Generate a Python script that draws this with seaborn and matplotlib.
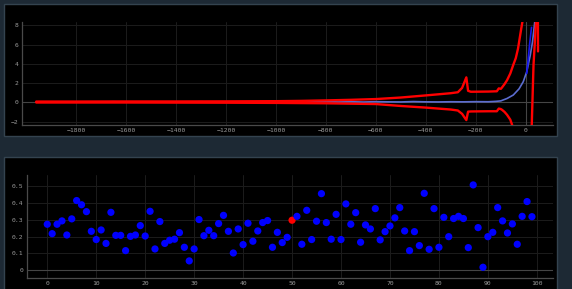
import numpy as np
import pandas as pd
import matplotlib
matplotlib.use("Agg")
import matplotlib.pyplot as plt
import seaborn as sns
from matplotlib.patches import Rectangle

# ---------------- data: top chart ----------------
upper_x = [-1960, -1800, -1600, -1400, -1200, -1000, -900, -800, -700, -600, -500, -400, -300,
           -272, -255, -238, -231, -220, -150, -116, -108, -100, -95, -85, -75, -62, -50, -40,
           -31, -18, -12, -5, 0, 46, 49]
upper_y = [0.08, 0.08, 0.09, 0.09, 0.1, 0.12, 0.15, 0.2, 0.26, 0.34, 0.5, 0.72, 0.95,
           1.05, 1.5, 2.6, 1.2, 1.1, 1.12, 1.15, 1.45, 1.4, 1.55, 1.9, 2.3, 3.0, 3.9, 4.6,
           5.6, 7.7, 8.6, 12, 25, 25, 5.3]

lower_x = [-1960, -1800, -1600, -1400, -1200, -1000, -900, -800, -700, -600, -500, -400, -300,
           -272, -255, -238, -231, -220, -150, -116, -108, -100, -95, -85, -75, -62, -54, -40,
           15, 24, 31, 41, 44]
lower_y = [-0.02, -0.02, -0.02, -0.03, -0.04, -0.06, -0.08, -0.1, -0.14, -0.18, -0.38, -0.55, -0.75,
           -0.85, -1.2, -1.85, -0.97, -0.95, -0.93, -0.93, -0.65, -0.7, -0.78, -1.0, -1.3, -1.8, -2.4, -6,
           -6, -2.3, 3.9, 8.4, 12]

mean_x = [-1960, -1900, -1850, -1800, -1750, -1700, -1650, -1600, -1550, -1500,
          -1450, -1400, -1350, -1300, -1250, -1200, -1150, -1100, -1050, -1000,
          -950, -900, -850, -800, -750, -700, -650, -600, -550, -500,
          -450, -400, -350, -300, -250, -200, -150,
          -120, -100, -75, -50, -27, -10, 4, 18, 27, 37]
mean_y = [0.03, 0.04, 0.02, 0.05, 0.03, 0.04, 0.06, 0.03, 0.04, 0.02,
          0.05, 0.03, 0.04, 0.06, 0.03, 0.05, 0.02, 0.06, 0.04, 0.03,
          0.07, 0.04, 0.05, 0.08, 0.04, 0.06, 0.03, 0.07, 0.05, 0.04,
          0.08, 0.05, 0.04, 0.06, 0.05, 0.07, 0.06,
          0.1, 0.15, 0.4, 0.76, 1.4, 2.15, 3.2, 4.9, 6.3, 8.6]

fit_x = [4, 10, 16, 23]
fit_y = [3.0, 4.6, 6.2, 7.8]

top_xticks = [-1800, -1600, -1400, -1200, -1000, -800, -600, -400, -200, 0]
top_yticks = [-2, 0, 2, 4, 6, 8]

# ---------------- data: bottom chart ----------------
idx = list(range(100))
vals = [0.274, 0.218, 0.274, 0.294, 0.21, 0.306, 0.415, 0.39, 0.349, 0.232,
        0.183, 0.24, 0.16, 0.345, 0.208, 0.208, 0.117, 0.202, 0.21, 0.266,
        0.204, 0.351, 0.127, 0.29, 0.16, 0.179, 0.185, 0.224, 0.137, 0.056,
        0.127, 0.302, 0.206, 0.238, 0.206, 0.278, 0.327, 0.232, 0.103, 0.246,
        0.153, 0.28, 0.173, 0.234, 0.284, 0.296, 0.137, 0.226, 0.165, 0.196,
        0.298, 0.321, 0.155, 0.357, 0.183, 0.292, 0.456, 0.284, 0.185, 0.333,
        0.183, 0.395, 0.274, 0.343, 0.167, 0.27, 0.246, 0.367, 0.181, 0.23,
        0.264, 0.312, 0.373, 0.234, 0.117, 0.23, 0.147, 0.458, 0.125, 0.367,
        0.137, 0.315, 0.2, 0.308, 0.321, 0.308, 0.135, 0.508, 0.254, 0.018,
        0.2, 0.226, 0.373, 0.294, 0.222, 0.276, 0.155, 0.321, 0.409, 0.319]
highlight = 50
bot_xticks = [0, 10, 20, 30, 40, 50, 60, 70, 80, 90, 100]
bot_yticks = [0, 0.1, 0.2, 0.3, 0.4, 0.5]
bot_yticklabels = ["0", "0.1", "0.2", "0.3", "0.4", "0.5"]

# ---------------- styling ----------------
sns.set_theme(style="dark")
plt.rcParams['font.family'] = ['DejaVu Sans Mono']

W, H = 572, 289
fig = plt.figure(figsize=(W / 100, H / 100), dpi=100, facecolor="#1d2934")

def px_rect(x0, y0, x1, y1, **kw):
    fig.patches.append(Rectangle((x0 / W, 1 - y1 / H), (x1 - x0) / W, (y1 - y0) / H,
                                 transform=fig.transFigure, figure=fig, **kw))

# panels
px_rect(4, 4, 557, 136, facecolor="#000000", edgecolor="#34434f", linewidth=1.0, zorder=-5)
px_rect(4, 157, 557, 292, facecolor="#000000", edgecolor="#34434f", linewidth=1.0, zorder=-5)

GRID = "#1c1c1c"
ZERO = "#454545"
AXL = "#4a4a4a"
TXT = "#9a9a9a"
FS = 4.6

def style_ax(ax):
    ax.set_facecolor("none")
    for s in ["top", "right"]:
        ax.spines[s].set_visible(False)
    for s in ["left", "bottom"]:
        ax.spines[s].set_color(AXL)
        ax.spines[s].set_linewidth(0.9)
    ax.grid(True, color=GRID, linewidth=0.7)
    ax.tick_params(axis="both", length=0, pad=2.2, labelsize=FS, labelcolor=TXT)
    ax.set_xlabel("")
    ax.set_ylabel("")

# ---------------- top chart ----------------
ax1 = fig.add_axes([21.5 / W, 1 - 125 / H, (553 - 21.5) / W, (125 - 22) / H])
ax1.axhline(0, color=ZERO, linewidth=0.8, zorder=1)
ax1.axvline(0, color=ZERO, linewidth=0.8, zorder=1)

sns.lineplot(x=mean_x, y=mean_y, ax=ax1, color="#5b6cd0", linewidth=1.2,
             sort=False, estimator=None, zorder=2)
sns.lineplot(x=fit_x, y=fit_y, ax=ax1, color="#1515f0", linewidth=1.2,
             sort=False, estimator=None, zorder=3)
sns.lineplot(x=upper_x, y=upper_y, ax=ax1, color="#ff0000", linewidth=1.7,
             sort=False, estimator=None, zorder=4)
sns.lineplot(x=lower_x, y=lower_y, ax=ax1, color="#ff0000", linewidth=1.7,
             sort=False, estimator=None, zorder=4)

ax1.set_xlim(-2019, 109)
ax1.set_ylim(-2.36, 8.36)
ax1.set_xticks(top_xticks)
ax1.set_yticks(top_yticks)
style_ax(ax1)

# ---------------- bottom chart ----------------
df = pd.DataFrame({"i": idx, "v": vals})
df["sel"] = np.where(df["i"] == highlight, "sel", "base")
ax2 = fig.add_axes([26.7 / W, 1 - 277.7 / H, (553 - 26.7) / W, (277.7 - 175) / H])
ax2.axhline(0, color=ZERO, linewidth=0.8, zorder=1)
sns.scatterplot(data=df, x="i", y="v", hue="sel",
                palette={"base": "#0000ff", "sel": "#ff0000"},
                s=27, linewidth=0, legend=False, ax=ax2, zorder=3)
ax2.set_xlim(-4.2, 103.3)
ax2.set_ylim(-0.044, 0.567)
ax2.set_xticks(bot_xticks)
ax2.set_yticks(bot_yticks)
ax2.set_yticklabels(bot_yticklabels)
style_ax(ax2)

fig.savefig("out.png", dpi=100, facecolor=fig.get_facecolor())
